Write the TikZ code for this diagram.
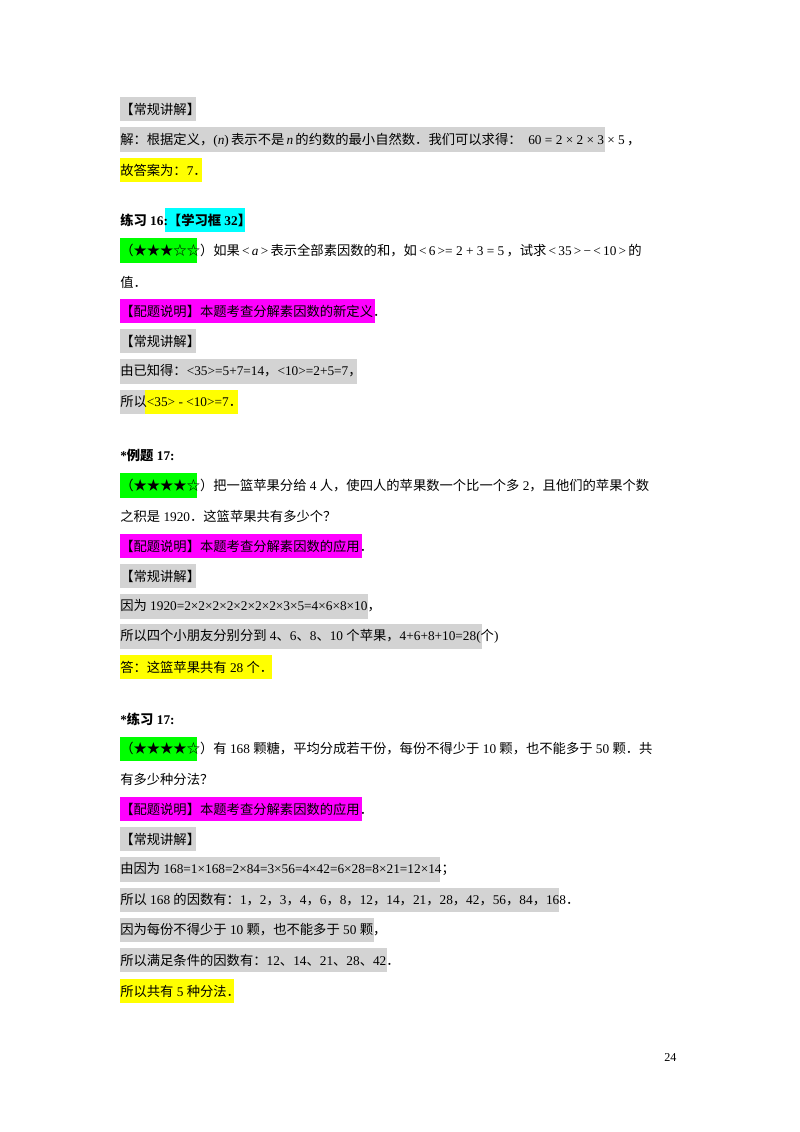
\documentclass[tikz,border=0pt]{standalone}
\usepackage{fontspec}
\setmainfont{Liberation Serif}
\newfontfamily\cjk{Noto Sans CJK SC}
\newcommand{\C}[1]{{\cjk #1}}
\begin{document}
\begin{tikzpicture}[x=0.744pt,y=-0.744pt,
  txt/.style={anchor=west,inner sep=0pt,font=\fontsize{9.9}{12}\selectfont}]
\useasboundingbox[fill=white] (0,0) rectangle (800,1132);
\definecolor{hgray}{RGB}{211,211,211}
\definecolor{hyel}{RGB}{255,255,0}
\definecolor{hgreen}{RGB}{0,255,0}
\definecolor{hmag}{RGB}{255,0,255}
\definecolor{hcyan}{RGB}{0,255,255}
% boxes
\fill[hgray] (120,97) rectangle (196,121);
\fill[hgray] (120,127) rectangle (605,152);
\fill[hyel] (120,158) rectangle (202,182);
\fill[hcyan] (165,208) rectangle (245,232);
\fill[hgreen] (120,238) rectangle (197,263);
\fill[hmag] (120,299) rectangle (375,323);
\fill[hgray] (120,329) rectangle (196,353);
\fill[hgray] (120,359) rectangle (357,384);
\fill[hgray] (120,390) rectangle (145,414);
\fill[hyel] (145,390) rectangle (238,414);
\fill[hgreen] (120,473) rectangle (197,498);
\fill[hmag] (120,534) rectangle (362,558);
\fill[hgray] (120,564) rectangle (196,588);
\fill[hgray] (120,594) rectangle (368,619);
\fill[hgray] (120,624) rectangle (482,649);
\fill[hyel] (120,655) rectangle (272,679);
\fill[hgreen] (120,737) rectangle (197,761);
\fill[hmag] (120,797) rectangle (362,821);
\fill[hgray] (120,827) rectangle (196,851);
\fill[hgray] (120,857) rectangle (440,882);
\fill[hgray] (120,888) rectangle (559,912);
\fill[hgray] (120,918) rectangle (374,942);
\fill[hgray] (120,948) rectangle (387,972);
\fill[hyel] (120,979) rectangle (234,1003);
% texts
\node[txt] (t1) at (120,109) {\C{【常规讲解】}};
\node[txt] (t2) at (120,140) {\C{解：根据定义，}(\textit{n})\,\C{表示不是}\,\textit{n}\,\C{的约数的最小自然数．我们可以求得：}\ \ 60 = 2 × 2 × 3 × 5\,\C{，}};
\node[txt] (t3) at (120,170) {\C{故答案为：}7\C{．}};
\node[txt] (t4) at (120,220) {\C{\bfseries 练习} \textbf{16:}\C{\bfseries【学习框} \textbf{32}\C{\bfseries 】}};
\node[txt] (t5) at (120,251) {\C{（★★★☆☆）如果}\,<\,\textit{a}\,>\,\C{表示全部素因数的和，如}\,<\,6\,>= 2 + 3 = 5\,\C{，试求}\,<\,35\,>\,−\,<\,10\,>\,\C{的}};
\node[txt] (t6) at (120,282) {\C{值．}};
\node[txt] (t7) at (120,311) {\C{【配题说明】本题考查分解素因数的新定义．}};
\node[txt] (t8) at (120,341) {\C{【常规讲解】}};
\node[txt] (t9) at (120,371) {\C{由已知得：}<35>=5+7=14\C{，}<10>=2+5=7\C{，}};
\node[txt] (t10) at (120,402) {\C{所以}<35> - <10>=7\C{．}};
\node[txt] (t11) at (120,455) {\textbf{*}\C{\bfseries 例题} \textbf{17:}};
\node[txt] (t12) at (120,486) {\C{（★★★★☆）把一篮苹果分给} 4 \C{人，使四人的苹果数一个比一个多} 2\C{，且他们的苹果个数}};
\node[txt] (t13) at (120,516) {\C{之积是} 1920\C{．这篮苹果共有多少个？}};
\node[txt] (t14) at (120,546) {\C{【配题说明】本题考查分解素因数的应用．}};
\node[txt] (t15) at (120,576) {\C{【常规讲解】}};
\node[txt] (t16) at (120,606) {\C{因为} 1920=2×2×2×2×2×2×2×3×5=4×6×8×10\C{，}};
\node[txt] (t17) at (120,636) {\C{所以四个小朋友分别分到} 4\C{、}6\C{、}8\C{、}10 \C{个苹果，}4+6+8+10=28(\C{个})};
\node[txt] (t18) at (120,667) {\C{答：这篮苹果共有} 28 \C{个．}};
\node[txt] (t19) at (120,719) {\textbf{*}\C{\bfseries 练习} \textbf{17:}};
\node[txt] (t20) at (120,749) {\C{（★★★★☆）有} 168 \C{颗糖，平均分成若干份，每份不得少于} 10 \C{颗，也不能多于} 50 \C{颗．共}};
\node[txt] (t21) at (120,779) {\C{有多少种分法？}};
\node[txt] (t22) at (120,809) {\C{【配题说明】本题考查分解素因数的应用．}};
\node[txt] (t23) at (120,839) {\C{【常规讲解】}};
\node[txt] (t24) at (120,869) {\C{由因为} 168=1×168=2×84=3×56=4×42=6×28=8×21=12×14\C{；}};
\node[txt] (t25) at (120,900) {\C{所以} 168 \C{的因数有：}1\C{，}2\C{，}3\C{，}4\C{，}6\C{，}8\C{，}12\C{，}14\C{，}21\C{，}28\C{，}42\C{，}56\C{，}84\C{，}168\C{．}};
\node[txt] (t26) at (120,930) {\C{因为每份不得少于} 10 \C{颗，也不能多于} 50 \C{颗，}};
\node[txt] (t27) at (120,960) {\C{所以满足条件的因数有：}12\C{、}14\C{、}21\C{、}28\C{、}42\C{．}};
\node[txt] (t28) at (120,991) {\C{所以共有} 5 \C{种分法．}};
\node[txt,font=\fontsize{9}{10}\selectfont] (pg) at (664,1057) {24};
\end{tikzpicture}
\end{document}
